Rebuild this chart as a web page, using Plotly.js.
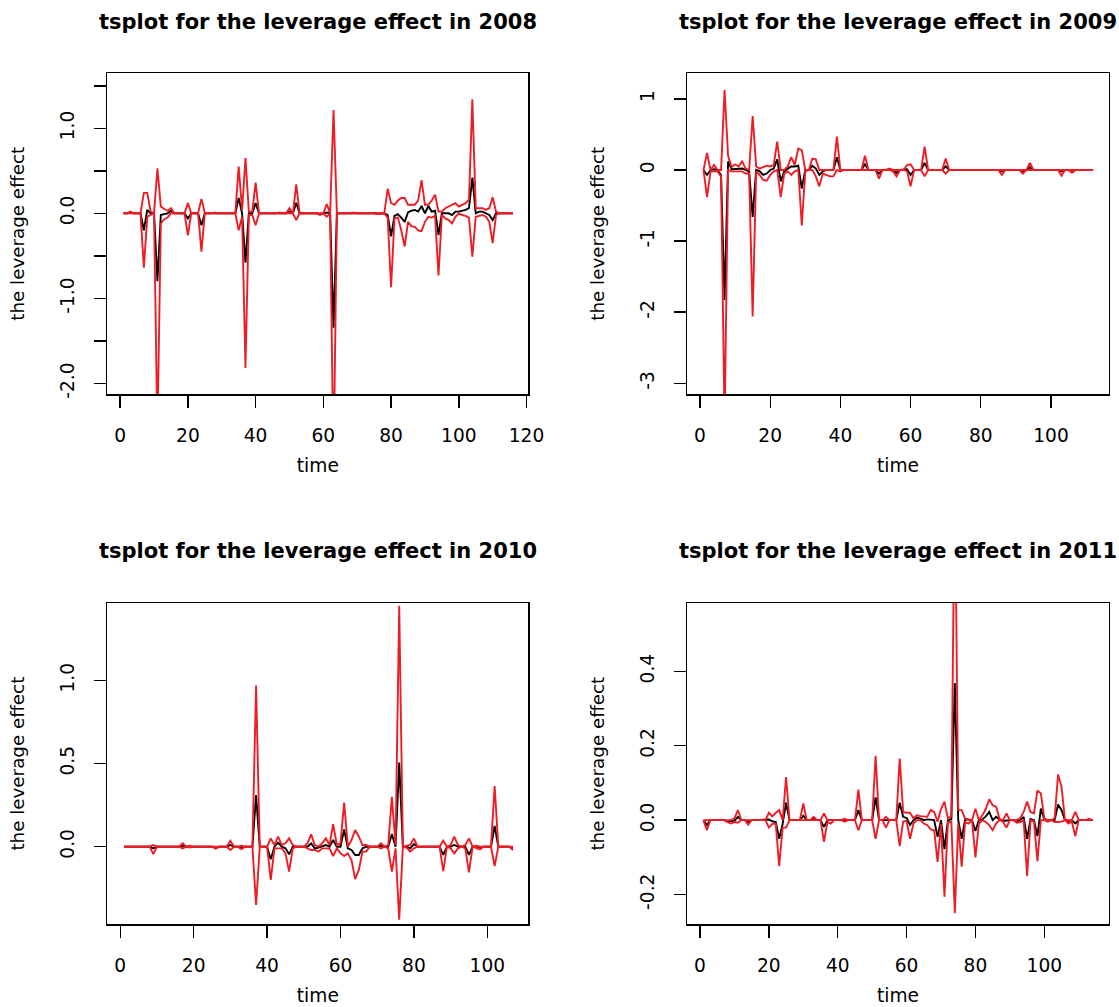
<!DOCTYPE html>
<html><head><meta charset="utf-8">
<script src="https://cdn.plot.ly/plotly-3.0.1.min.js"></script>
<style>html,body{margin:0;padding:0;background:#fff}</style>
</head><body>
<div id="chart" style="width:1119px;height:1007px"></div>
<script>
// ---------- DATA ----------
const years = ["2008", "2009", "2010", "2011"];

const mean2008 = [0,0,0.01,0,0,0,-0.2,0.04,0,0,
 -0.8,-0.02,-0.01,0,0.03,0,0,0,0,-0.06,
 0,0,0,-0.14,0,0,0,0.005,0,0,
 0,0,0,0,0.18,0,-0.58,0,0,0.12,
 0,0,0,0,0,0,0.005,0,0,0.02,
 0,0.125,0,0,0,0,0,0,-0.01,0,
 0.01,0,-1.345,0,0,0,0,0,0.005,0,
 0,0,0,0,0,-0.005,0,0,-0.02,-0.27,
 -0.03,-0.01,-0.05,-0.1,0.01,0.03,0.04,0.02,0.086,0,
 0.086,0.02,0.03,-0.255,0,0,0,-0.02,0.02,0.02,
 0.03,0.04,0.06,0.42,0,0.02,0.02,0,-0.02,-0.08,
 0,0,0,0,0,0];
const upper2008 = [0,0,0.02,0,0,0,0.24,0.24,0.02,0,
 0.53,0.08,0.05,0.03,0.06,0,0,0,0,0.12,
 0,0,0,0.17,0,0,0,0.01,0,0,
 0,0,0,0,0.55,0.04,0.65,0.02,0.02,0.36,
 0,0,0,0,0,0,0.01,0,0,0.06,
 0,0.34,0,0,0,0,0,0,0,0,
 0.11,0,1.215,0,0,0,0,0,0.01,0,
 0,0,0,0,0,0,0,0,0.29,0.12,
 0.1,0.15,0.18,0.18,0.1,0.1,0.1,0.15,0.39,0.1,
 0.1,0.15,0.22,0.02,0.02,0.06,0.08,0.1,0.12,0.08,
 0.1,0.12,0.16,1.34,0.06,0.06,0.06,0.04,0.06,0.19,
 0.02,0,0,0,0,0];
const lower2008 = [0,0,0,0,0,0,-0.64,-0.04,-0.02,0,
 -2.6,-0.12,-0.07,-0.05,0,0,0,0,0,-0.26,
 0,0,0,-0.45,0,0,0,0,0,0,
 0,0,0,0,-0.2,-0.04,-1.82,-0.02,-0.02,-0.14,
 0,0,0,0,0,0,0,0,0,0,
 0,-0.08,0,0,0,0,0,0,-0.02,0,
 -0.04,0,-3.0,0,0,0,0,0,0,0,
 0,0,0,0,0,-0.01,0,0,-0.05,-0.87,
 -0.06,-0.05,-0.2,-0.39,-0.1,-0.15,-0.16,-0.2,-0.21,-0.1,
 -0.04,-0.05,-0.03,-0.73,-0.02,-0.06,-0.08,-0.12,-0.04,0,
 -0.02,-0.03,-0.05,-0.51,-0.04,-0.03,-0.02,-0.04,-0.1,-0.35,
 -0.02,0,0,0,0,0];

const mean2009 = [0,-0.07,0,0.01,0,-0.07,-1.83,0.12,0.01,0.01,
 0.01,0.02,0,-0.02,-0.66,0,-0.02,-0.07,-0.05,0,
 0.02,0.15,-0.16,-0.02,0.02,0.05,0.05,0.06,-0.26,0,
 0,0.06,0.02,-0.07,-0.02,0,0,0,0.18,0,
 0,0,0,0,0,0,0.08,0,0,0,
 -0.05,0,0,0.01,-0.01,-0.04,0,0,0.01,-0.07,
 0,0,0,0.1,0,0,0,0,0,0.05,
 0,0,0,0,0,0,0,0,0,0,
 0,0,0,0,0,-0.02,0,0,0,0,
 0,-0.02,0,0.04,0,0,0,0,0,0,
 0,0,-0.02,0,0,-0.01,0,0,0,0,
 0,0];
const upper2009 = [0,0.24,0,0.07,0,0,1.125,0.2,0.04,0.08,
 0.05,0.12,0.02,0,0.76,0.05,0.02,0.04,0.06,0.05,
 0.07,0.4,0,0,0.05,0.18,0.07,0.3,0.28,0,
 0,0.16,0.15,0,0,0,0.01,0,0.47,0,
 0,0,0,0,0,0,0.2,0,0,0,
 0,0,0,0.02,0,0,0,0,0.07,0.08,
 0,0,0,0.33,0,0,0,0,0,0.16,
 0,0,0,0,0,0,0,0,0,0,
 0,0,0,0,0,0.01,0,0,0,0,
 0,0,0,0.1,0,0,0,0,0,0,
 0,0,0.01,0,0,0,0,0,0,0,
 0,0];
const lower2009 = [0,-0.38,-0.02,-0.02,-0.02,-0.09,-3.6,0,-0.02,-0.02,
 -0.02,-0.02,-0.05,-0.05,-2.06,-0.02,-0.07,-0.14,-0.15,-0.07,
 -0.02,0,-0.38,-0.05,-0.02,-0.07,-0.02,0,-0.78,-0.02,
 0,0,-0.09,-0.23,-0.05,-0.07,-0.09,-0.09,0,-0.02,
 0,0,0,0,0,0,0,0,0,0,
 -0.12,0,0,0,-0.02,-0.09,0,0,-0.02,-0.23,
 0,0,0,-0.09,0,0,0,0,0,-0.05,
 0,0,0,0,0,0,0,0,0,0,
 0,0,0,0,0,-0.07,0,0,0,0,
 0,-0.05,0,0,0,0,0,0,0,0,
 0,0,-0.08,0,0,-0.04,0,0,0,0,
 0,0];

const mean2010 = [0,0,0,0,0,0,0,0,-0.01,0,
 0,0,0,0,0,0,0.005,0,0,0,
 0,0,0,0,0,-0.005,0,0,0,0.01,
 0,0,-0.005,0,0,0,0.31,0,0,0,
 -0.076,0,0.024,0,-0.01,-0.046,0,0,0,0,
 0,0.02,-0.01,-0.006,0,0.01,0,0.04,0,0,
 0.104,-0.01,-0.02,-0.05,-0.05,-0.01,0,0,0,0,
 0.005,0,0,0.076,0,0.506,0,0,-0.01,0.016,
 0,0,0,0,0,0,0,-0.05,0,0,
 0.01,0,0,0,-0.05,0,0,-0.004,0,0,
 0,0.125,0,0,0,0,-0.01];
const upper2010 = [0,0,0,0,0,0,0,0,0.01,0,
 0,0,0,0,0,0,0.02,0,0.005,0,
 0,0,0,0,0,0,0,0,0,0.035,
 0,0,0.005,0,0,0,0.97,0,0,0,
 0.05,0.01,0.06,0.01,0.02,0.05,0.01,0,0,0,
 0.02,0.074,0.01,0,0.02,0.05,0.01,0.135,0.01,0.02,
 0.265,0,0.04,0.1,0.06,0.01,0.01,0,0,0,
 0.02,0,0.01,0.3,0.01,1.45,0,0.005,0.01,0.05,
 0,0,0,0,0,0,0,0.036,0,0.01,
 0.06,0.01,0,0.01,0.05,0,0.005,0,0,0,
 0,0.365,0,0,0,0,0];
const lower2010 = [0,0,0,0,0,0,0,0,-0.045,0,
 0,0,0,0,0,0,-0.01,0,-0.005,0,
 0,0,0,0,0,-0.012,0,0,0,-0.02,
 0,0,-0.015,0,0,0,-0.35,-0.005,0,0,
 -0.2,-0.01,-0.01,-0.01,-0.04,-0.15,-0.01,0,0,0,
 -0.01,-0.02,-0.02,-0.03,-0.01,-0.01,-0.01,-0.056,-0.01,-0.04,
 -0.056,-0.04,-0.08,-0.195,-0.14,-0.03,-0.03,0,0,0,
 -0.01,0,-0.01,-0.15,-0.01,-0.44,0,-0.005,-0.03,-0.01,
 0,0,0,0,0,0,0,-0.147,0,-0.01,
 -0.04,-0.01,0,-0.01,-0.155,0,-0.01,-0.016,0,0,
 0,-0.116,0,0,0,0,-0.02];

const mean2011 = [0,-0.013,0,0,0,0,0,-0.003,-0.003,-0.002,
 0.009,0,0,-0.004,0,0,0,0,0,0.002,
 -0.003,-0.005,-0.05,-0.01,0.047,0,0,0,0,0.012,
 0,0,0.004,0,0,-0.018,0,0,0,0,
 0,0,0,0,0,0.027,0,0,0,0,
 0.061,0,0,0,0,0,0,0.047,0.009,0.006,
 -0.013,0,0.007,0.004,0,0.002,0,0,-0.045,0,
 -0.078,0,0.002,0.369,0,-0.05,0.002,0,0,-0.029,
 0,0.002,0.01,0.022,0,0.009,0.002,-0.002,0,0,
 0,-0.002,0,0.009,-0.05,0.003,0,-0.043,0.031,0.002,
 0,0,0,0.042,0.027,0,-0.002,0,-0.009,0,
 0,0,0.002,0];
const upper2011 = [0,0,0,0,0,0,0,0,0,0.005,
 0.027,0,0,0,0,0,0,0,0,0.02,
 0.01,0.02,0.027,0,0.116,0,0,0,0,0.045,
 0,0,0.009,0,0,0.018,0,0,0,0,
 0,0.004,0,0,0,0.082,0,0,0,0,
 0.173,0,0,0.009,0,0,0,0.166,0.022,0.02,
 0.02,0.005,0.013,0.011,0.009,0.009,0.027,0.022,-0.004,0.03,
 0.05,0.005,0.01,0.95,0.027,0.027,0.004,0.002,0,0.031,
 0,0.013,0.03,0.056,0.04,0.036,0.003,0,0.018,0,
 0,0,0.005,0.022,0.05,0.022,0.018,0.08,0.072,0.004,
 0,0,0.005,0.123,0.09,0.002,0,0,0.022,0,
 0,0,0.004,0];
const lower2011 = [0,-0.027,0,0,0,0,0,-0.005,-0.009,-0.005,
 -0.007,0,0,-0.012,0,0,0,0,0,-0.02,
 -0.01,-0.01,-0.124,-0.02,-0.02,0,0,0,0,0,
 0,0,0,0,0,-0.058,-0.005,-0.009,0,0,
 0,-0.004,0,0,0,-0.027,0,0,0,0,
 -0.05,0,0,-0.02,0,0,0,-0.07,-0.004,-0.002,
 -0.05,-0.009,0,0,-0.009,-0.013,-0.025,-0.027,-0.112,-0.01,
 -0.206,-0.005,-0.005,-0.25,-0.009,-0.125,-0.005,-0.009,0,-0.1,
 -0.009,0,-0.005,-0.013,-0.027,-0.009,0,-0.004,-0.02,0,
 0,-0.007,-0.005,0,-0.15,0,-0.004,-0.11,0,0,
 -0.004,0,-0.005,-0.005,-0.004,0,-0.009,-0.004,-0.043,0,
 0,0,-0.002,0];

// tick values / labels
const xTicks2008 = [0, 20, 40, 60, 80, 100, 120];
const xTicksOther = [0, 20, 40, 60, 80, 100];
const yTicks2008 = [-2, -1.5, -1, -0.5, 0, 0.5, 1, 1.5];
const yLabels2008 = ["-2.0", "", "-1.0", "", "0.0", "", "1.0", ""];
const yTicks2009 = [-3, -2, -1, 0, 1];
const yLabels2009 = ["-3", "-2", "-1", "0", "1"];
const yTicks2010 = [0, 0.5, 1];
const yLabels2010 = ["0.0", "0.5", "1.0"];
const yTicks2011 = [-0.2, 0, 0.2, 0.4];
const yLabels2011 = ["-0.2", "0.0", "0.2", "0.4"];

// ---------- LAYOUT / STYLE ----------
const W = 1119, H = 1007;
const FONT = "DejaVu Sans, Liberation Sans, Arial, sans-serif";
const RED = "#EE1C24";

const panels = [
  {mean: mean2008, upper: upper2008, lower: lower2008, xt: xTicks2008, yt: yTicks2008, yl: yLabels2008,
   box: [107.3, 528.4, 73.3, 394.3], xr: [-3.8, 120.55], yr: [-2.129, 1.647]},
  {mean: mean2009, upper: upper2009, lower: lower2009, xt: xTicksOther, yt: yTicks2009, yl: yLabels2009,
   box: [687.3, 1108.7, 73.3, 394.3], xr: [-3.62, 116.45], yr: [-3.155, 1.36]},
  {mean: mean2010, upper: upper2010, lower: lower2010, xt: xTicksOther, yt: yTicks2010, yl: yLabels2010,
   box: [107.3, 528.4, 603.0, 924.3], xr: [-3.54, 111.2], yr: [-0.467, 1.466]},
  {mean: mean2011, upper: upper2011, lower: lower2011, xt: xTicksOther, yt: yTicks2011, yl: yLabels2011,
   box: [687.3, 1108.7, 603.0, 924.3], xr: [-3.69, 118.7], yr: [-0.280, 0.584]}
];

const traces = [];
const layout = {
  width: W, height: H,
  margin: {l: 0, r: 0, t: 0, b: 0},
  paper_bgcolor: "#fff", plot_bgcolor: "#fff",
  showlegend: false,
  font: {family: FONT, size: 18.3, color: "#000"},
  annotations: []
};

panels.forEach((p, i) => {
  const sfx = i === 0 ? "" : String(i + 1);
  const xa = "x" + sfx, ya = "y" + sfx;
  const xs = p.mean.map((_, k) => k + 1);
  const common = {x: xs, mode: "lines", xaxis: xa, yaxis: ya, hoverinfo: "skip", cliponaxis: true};
  traces.push(Object.assign({}, common, {y: p.mean, line: {color: "#000", width: 1.9}, name: "mean " + years[i]}));
  traces.push(Object.assign({}, common, {y: p.upper, line: {color: RED, width: 1.9}, name: "upper " + years[i]}));
  traces.push(Object.assign({}, common, {y: p.lower, line: {color: RED, width: 1.9}, name: "lower " + years[i]}));

  const [l, r, t, b] = p.box;
  const axCommon = {
    showline: true, mirror: true, linecolor: "#000", linewidth: 1.4,
    ticks: "outside", ticklen: 12, tickwidth: 1.4, tickcolor: "#000",
    showgrid: false, zeroline: false, fixedrange: true,
    tickfont: {family: FONT, size: 18.6, color: "#000"},
    tickmode: "array", ticklabelstandoff: 12
  };
  layout["xaxis" + sfx] = Object.assign({}, axCommon, {
    domain: [l / W, r / W], anchor: ya, range: p.xr,
    tickvals: p.xt, ticktext: p.xt.map(String),
    title: {text: "time", font: {family: FONT, size: 18.6, color: "#000"}, standoff: 14}
  });
  layout["yaxis" + sfx] = Object.assign({}, axCommon, {
    domain: [1 - b / H, 1 - t / H], anchor: xa, range: p.yr,
    tickvals: p.yt, ticktext: p.yl, tickangle: -90,
    title: {text: "the leverage effect", font: {family: FONT, size: 18.3, color: "#000"}, standoff: 28}
  });
  layout.annotations.push({
    text: "<b>tsplot for the leverage effect in " + years[i] + "</b>",
    xref: "paper", yref: "paper", x: (l + r) / 2 / W, y: 1 - (i < 2 ? 22 : 551) / H,
    xanchor: "center", yanchor: "middle", showarrow: false,
    font: {family: FONT, size: 21, color: "#000"}
  });
});

Plotly.newPlot("chart", traces, layout, {staticPlot: true, displayModeBar: false});
</script>
</body></html>
